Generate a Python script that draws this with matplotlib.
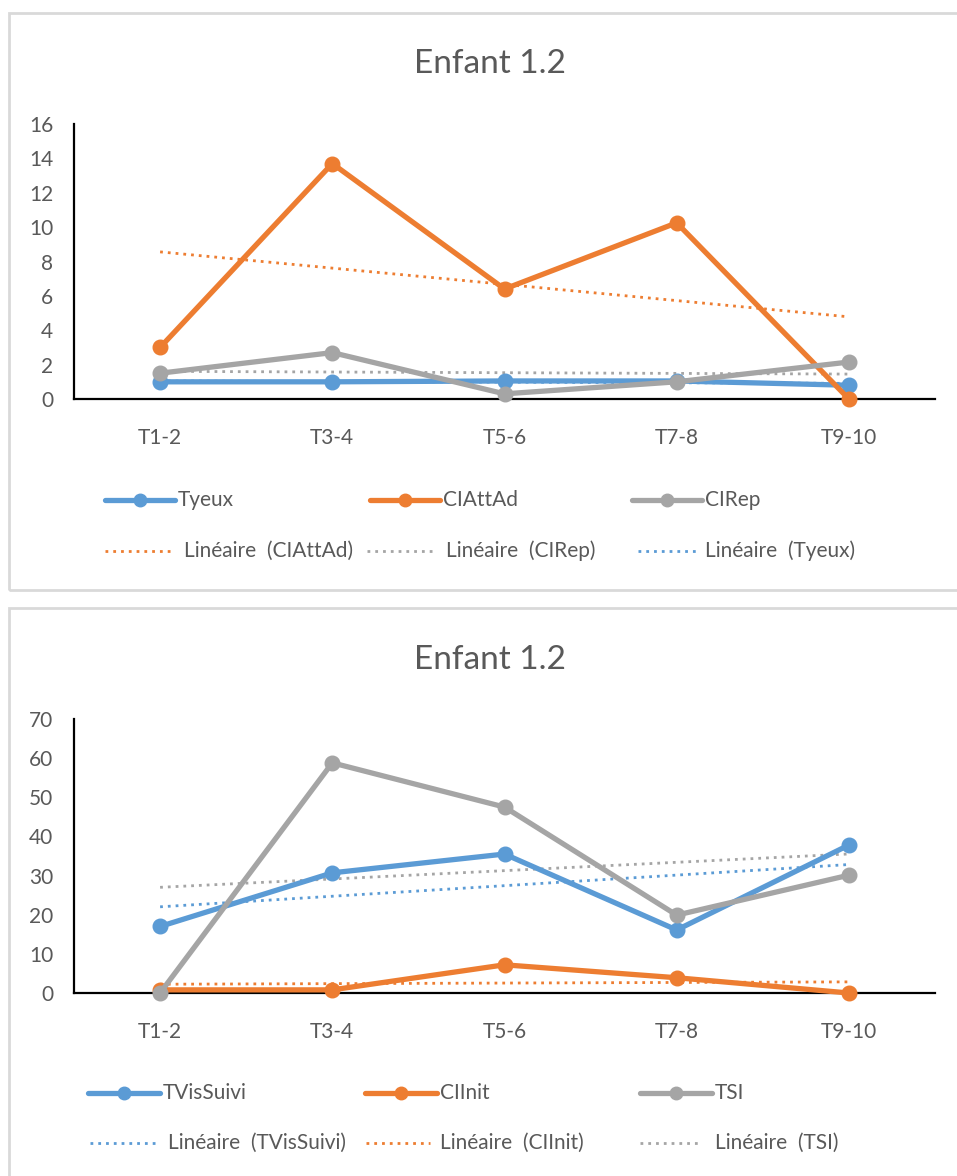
import numpy as np
import matplotlib
matplotlib.use("Agg")
import matplotlib.pyplot as plt
from matplotlib.lines import Line2D
from matplotlib.patches import Rectangle

plt.rcParams['font.family'] = ['Lato', 'DejaVu Sans']

# ---- data ----
periods = ["T1-2", "T3-4", "T5-6", "T7-8", "T9-10"]

tyeux = [1.0, 1.0, 1.05, 1.05, 0.8]
ciattad = [3.0, 13.7, 6.4, 10.25, 0.0]
cirep = [1.5, 2.7, 0.3, 1.0, 2.15]

tvissuivi = [17.0, 30.7, 35.5, 16.1, 37.8]
ciinit = [0.8, 0.8, 7.2, 3.9, 0.0]
tsi = [0.0, 58.8, 47.5, 19.9, 30.1]

title = "Enfant 1.2"
top_ticks = list(range(0, 17, 2))
bottom_ticks = list(range(0, 71, 10))

BLUE = "#5B9BD5"
ORANGE = "#ED7D31"
GRAY = "#A5A5A5"
TEXT = "#595959"

W, H = 957, 1176
fig = plt.figure(figsize=(W / 100, H / 100), dpi=100)


def fx(px):
    return px / W


def fy(py):
    return 1 - py / H


# chart area frames
fig.add_artist(Rectangle((fx(9), fy(590)), fx(960), fy(13) - fy(590),
                         transform=fig.transFigure, fill=False,
                         edgecolor="#d9d9d9", lw=2))
fig.add_artist(Rectangle((fx(9), fy(1180)), fx(960), fy(608) - fy(1180),
                         transform=fig.transFigure, fill=False,
                         edgecolor="#d9d9d9", lw=2))


def trend(values):
    x = np.arange(len(values))
    k, b = np.polyfit(x, values, 1)
    return k * x + b


def make_axes(top, bottom, ymax, ticks, series):
    ax = fig.add_axes([fx(74), fy(bottom), fx(935) - fx(74), fy(top) - fy(bottom)])
    x = np.arange(len(periods))
    for vals, color in series:
        ax.plot(x, trend(vals), color=color, lw=2.0, dashes=(1, 1.8), zorder=2)
    for vals, color in series:
        ax.plot(x, vals, color=color, lw=3.8, marker="o", markersize=10.5,
                zorder=3, clip_on=False)
    ax.set_xlim(-0.5, len(periods) - 0.5)
    ax.set_ylim(0, ymax)
    ax.set_yticks(ticks)
    ax.set_xticks(x)
    ax.set_xticklabels(periods)
    for s in ("top", "right"):
        ax.spines[s].set_visible(False)
    for s in ("left", "bottom"):
        ax.spines[s].set_color("black")
        ax.spines[s].set_linewidth(1.6)
    ax.tick_params(axis="both", length=0, colors=TEXT, labelsize=15)
    ax.tick_params(axis="y", pad=15)
    ax.tick_params(axis="x", pad=21)
    return ax


def legend_entry(x0, y, color, label, solid, length=70, text_dx=None):
    if solid:
        fig.add_artist(Line2D([fx(x0), fx(x0 + length)], [fy(y), fy(y)],
                              transform=fig.transFigure, color=color, lw=3.8,
                              solid_capstyle="round"))
        fig.add_artist(Line2D([fx(x0 + length / 2)], [fy(y)],
                              transform=fig.transFigure, color=color,
                              marker="o", markersize=9, lw=0))
        dx = length + 3 if text_dx is None else text_dx
    else:
        fig.add_artist(Line2D([fx(x0), fx(x0 + length)], [fy(y), fy(y)],
                              transform=fig.transFigure, color=color, lw=2.0,
                              dashes=(1, 1.8)))
        dx = length + 9 if text_dx is None else text_dx
    fig.text(fx(x0 + dx), fy(y), label, color=TEXT, fontsize=15,
             ha="left", va="center")


# ---- top chart ----
fig.text(fx(490), fy(64), title, color=TEXT, fontsize=24, ha="center", va="center")
make_axes(124, 399, 16, top_ticks,
          [(tyeux, BLUE), (ciattad, ORANGE), (cirep, GRAY)])

legend_entry(105, 500, BLUE, "Tyeux", True)
legend_entry(370, 500, ORANGE, "CIAttAd", True)
legend_entry(632, 500, GRAY, "CIRep", True)
legend_entry(105, 551, ORANGE, "Linéaire  (CIAttAd)", False)
legend_entry(367, 551, GRAY, "Linéaire  (CIRep)", False)
legend_entry(638, 551, BLUE, "Linéaire  (Tyeux)", False, length=62, text_dx=67)

# ---- bottom chart ----
fig.text(fx(490), fy(660), title, color=TEXT, fontsize=24, ha="center", va="center")
make_axes(719, 993, 70, bottom_ticks,
          [(tvissuivi, BLUE), (ciinit, ORANGE), (tsi, GRAY)])

legend_entry(88, 1093, BLUE, "TVisSuivi", True, length=72)
legend_entry(365, 1093, ORANGE, "CIInit", True, length=72)
legend_entry(640, 1093, GRAY, "TSI", True, length=72)
legend_entry(90, 1143, BLUE, "Linéaire  (TVisSuivi)", False, length=68, text_dx=78)
legend_entry(366, 1143, ORANGE, "Linéaire  (CIInit)", False, length=64, text_dx=74)
legend_entry(640, 1143, GRAY, "Linéaire  (TSI)", False, length=62, text_dx=75)

fig.savefig("out.png", dpi=100)
